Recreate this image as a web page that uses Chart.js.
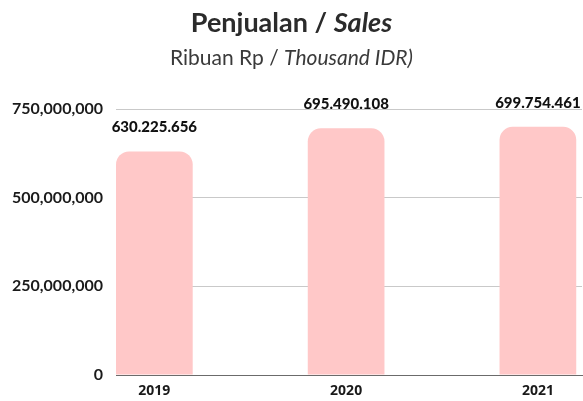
<!DOCTYPE html>
<html lang="id">
<head>
    <meta charset="UTF-8">
    <title>Penjualan / Sales</title>
    <script src="https://cdn.jsdelivr.net/npm/chart.js"></script>
    <style>
        body {
            margin: 0;
            background: #fff;
            font-family: Lato, sans-serif;
        }
        .wrap {
            position: relative;
            width: 583px;
            height: 401px;
        }
        .title {
            position: absolute;
            left: 0;
            width: 583px;
            text-align: center;
            color: #2b2b2b;
            white-space: nowrap;
        }
        #t1 { top: 5px; font-size: 27px; font-weight: bold; }
        #t2 { top: 44px; font-size: 21px; color: #3a3a3a; }
    </style>
</head>
<body>
    <div class="wrap">
        <canvas id="salesChart" width="583" height="401"></canvas>
        <div class="title" id="t1">Penjualan / <i>Sales</i></div>
        <div class="title" id="t2">Ribuan Rp / <i>Thousand IDR)</i></div>
    </div>

    <script>
        // data
        const years = ['2019', '2020', '2021'];
        const sales = [630225656, 695490108, 699754461];
        const yTicks = [0, 250000000, 500000000, 750000000];

        // label di atas batang, format titik
        const valueLabels = {
            id: 'valueLabels',
            afterDatasetsDraw(chart) {
                const ctx = chart.ctx;
                const meta = chart.getDatasetMeta(0);
                ctx.save();
                ctx.font = '900 15px Lato';
                ctx.fillStyle = '#111';
                ctx.textAlign = 'center';
                ctx.textBaseline = 'middle';
                meta.data.forEach((bar, i) => {
                    const txt = sales[i].toLocaleString('de-DE');
                    ctx.fillText(txt, bar.x, bar.y - 24);
                });
                ctx.restore();
            }
        };

        new Chart(document.getElementById('salesChart'), {
            type: 'bar',
            data: {
                datasets: [{
                    data: sales.map((v, i) => ({ x: i, y: v })),
                    backgroundColor: '#ffc8c8',
                    borderRadius: { topLeft: 13, topRight: 13 },
                    borderSkipped: 'bottom',
                    categoryPercentage: 1,
                    barPercentage: 0.4
                }]
            },
            options: {
                responsive: false,
                animation: false,
                layout: { padding: { top: 109, right: 1, left: 0, bottom: 0 } },
                plugins: {
                    legend: { display: false },
                    tooltip: { enabled: false }
                },
                scales: {
                    x: {
                        type: 'linear',
                        offset: false,
                        min: -0.2,
                        max: 2.23,
                        afterFit: s => { s.height = 26; },
                        grid: { display: false, drawTicks: false },
                        border: { display: true, color: '#6b6b6b', width: 1 },
                        ticks: {
                            stepSize: 1,
                            includeBounds: false,
                            padding: 8,
                            color: '#1a1a1a',
                            font: { family: 'Open Sans', size: 14, weight: 'bold' },
                            callback: v => years[v] ?? ''
                        }
                    },
                    y: {
                        min: 0,
                        max: 750000000,
                        afterFit: s => { s.width = 116; },
                        afterBuildTicks: s => { s.ticks = yTicks.map(v => ({ value: v })); },
                        grid: { color: '#c9c9c9', drawTicks: false },
                        border: { display: false },
                        ticks: {
                            padding: 13,
                            color: '#1a1a1a',
                            font: { family: 'Lato', size: 16, weight: 'bold' },
                            callback: v => v.toLocaleString('en-US')
                        }
                    }
                }
            },
            plugins: [valueLabels]
        });
    </script>
</body>
</html>
